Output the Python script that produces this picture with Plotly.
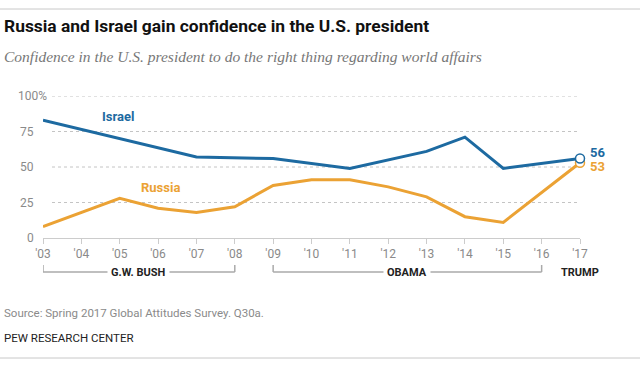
import plotly.graph_objects as go

israel_years = [2003, 2005, 2007, 2009, 2011, 2013, 2014, 2015, 2017]
israel_vals = [83, 70, 57, 56, 49, 61, 71, 49, 56]
russia_years = [2003, 2005, 2006, 2007, 2008, 2009, 2010, 2011, 2012, 2013, 2014, 2015, 2017]
russia_vals = [8, 28, 21, 18, 22, 37, 41, 41, 36, 29, 15, 11, 53]
tick_years = list(range(2003, 2018))
tick_labels = ["'%02d" % (y % 100) for y in tick_years]
y_ticks = [0, 25, 50, 75, 100]
y_labels = ["0", "25", "50", "75", "100%"]
presidents = [("G.W. BUSH", 2003, 2008), ("OBAMA", 2009, 2016)]

BLUE = "#1d6aa1"
ORANGE = "#eba234"
NARROW = "Liberation Sans Narrow, Arial Narrow, Roboto"
W, H = 640, 366
L, R, T, B = 43, 60, 96, 128
PW = W - L - R
PH = H - T - B


def px(x):
    return (x - L) / PW


def py(y):
    return 1 - (y - T) / PH


fig = go.Figure()
fig.add_trace(go.Scatter(x=israel_years, y=israel_vals, mode="lines",
                         line=dict(color=BLUE, width=3), hoverinfo="skip", cliponaxis=False))
fig.add_trace(go.Scatter(x=russia_years, y=russia_vals, mode="lines",
                         line=dict(color=ORANGE, width=3), hoverinfo="skip", cliponaxis=False))
fig.add_trace(go.Scatter(x=[russia_years[-1]], y=[russia_vals[-1]], mode="markers",
                         marker=dict(size=9, color="white", line=dict(color=ORANGE, width=1.5)),
                         cliponaxis=False, hoverinfo="skip"))
fig.add_trace(go.Scatter(x=[israel_years[-1]], y=[israel_vals[-1]], mode="markers",
                         marker=dict(size=9, color="white", line=dict(color=BLUE, width=1.5)),
                         cliponaxis=False, hoverinfo="skip"))

shapes = []
for yv in y_ticks[1:]:
    shapes.append(dict(type="line", xref="paper", yref="y", x0=px(52), x1=1, y0=yv, y1=yv,
                       line=dict(color="#c4c4c4", width=1, dash="dot"), layer="below"))
shapes.append(dict(type="line", xref="paper", yref="paper", x0=px(0), x1=px(640), y0=py(9), y1=py(9),
                   line=dict(color="#c8c8c8", width=1)))
shapes.append(dict(type="line", xref="paper", yref="paper", x0=px(0), x1=px(640), y0=py(358), y1=py(358),
                   line=dict(color="#c8c8c8", width=1)))

ann = []
for yv, lab in zip(y_ticks, y_labels):
    ann.append(dict(x=px(49) if lab.endswith("%") else px(36), y=yv, xref="paper", yref="y",
                    text=lab, showarrow=False, xanchor="right", yanchor="middle",
                    font=dict(size=12, color="#8a8a8a", family=NARROW)))

BR = "#aaaaaa"
for name, a, b in presidents:
    mid = (a + b) / 2
    ybr = py(272)
    shapes.append(dict(type="line", xref="x", yref="paper", x0=a, x1=a, y0=py(265), y1=ybr,
                       line=dict(color=BR, width=1.5)))
    shapes.append(dict(type="line", xref="x", yref="paper", x0=b, x1=b, y0=py(265), y1=ybr,
                       line=dict(color=BR, width=1.5)))
    shapes.append(dict(type="line", xref="x", yref="paper", x0=a, x1=b, y0=ybr, y1=ybr,
                       line=dict(color=BR, width=1.5), layer="below"))
    ann.append(dict(x=mid, y=ybr, xref="x", yref="paper", text="<b>%s</b>" % name, showarrow=False,
                    xanchor="center", yanchor="middle", bgcolor="white", borderpad=3,
                    font=dict(size=11, color="#222", family=NARROW)))
ann.append(dict(x=2017, y=py(272), xref="x", yref="paper", text="<b>TRUMP</b>", showarrow=False,
                xanchor="center", yanchor="middle",
                font=dict(size=11, color="#222", family=NARROW)))

ann.append(dict(x=px(118), y=py(116), xref="paper", yref="paper", text="<b>Israel</b>", showarrow=False,
                xanchor="center", yanchor="middle", font=dict(size=13, color=BLUE, family="Roboto")))
ann.append(dict(x=px(160), y=py(187), xref="paper", yref="paper", text="<b>Russia</b>", showarrow=False,
                xanchor="center", yanchor="middle", font=dict(size=13, color=ORANGE, family="Roboto")))
ann.append(dict(x=px(588), y=py(152), xref="paper", yref="paper", text="<b>%d</b>" % israel_vals[-1],
                showarrow=False, xanchor="left", yanchor="middle",
                font=dict(size=13, color=BLUE, family="Roboto")))
ann.append(dict(x=px(588), y=py(166), xref="paper", yref="paper", text="<b>%d</b>" % russia_vals[-1],
                showarrow=False, xanchor="left", yanchor="middle",
                font=dict(size=13, color=ORANGE, family="Roboto")))

ann.append(dict(x=px(2), y=py(26), xref="paper", yref="paper",
                text="<b>Russia and Israel gain confidence in the U.S. president</b>", showarrow=False,
                xanchor="left", yanchor="middle", font=dict(size=17.4, color="#111", family="Roboto")))
ann.append(dict(x=px(2), y=py(57), xref="paper", yref="paper",
                text="<i>Confidence in the U.S. president to do the right thing regarding world affairs</i>",
                showarrow=False, xanchor="left", yanchor="middle",
                font=dict(size=15.5, color="#777", family="Liberation Serif, Georgia, serif")))
ann.append(dict(x=px(2), y=py(313), xref="paper", yref="paper",
                text="Source: Spring 2017 Global Attitudes Survey. Q30a.", showarrow=False,
                xanchor="left", yanchor="middle",
                font=dict(size=11.5, color="#8a8a8a", family=NARROW)))
ann.append(dict(x=px(2), y=py(338), xref="paper", yref="paper",
                text="PEW RESEARCH CENTER", showarrow=False, xanchor="left", yanchor="middle",
                font=dict(size=11.5, color="#222", family=NARROW)))

fig.update_layout(
    width=W, height=H, margin=dict(l=L, r=R, t=T, b=B),
    paper_bgcolor="white", plot_bgcolor="white", showlegend=False,
    shapes=shapes, annotations=ann,
    xaxis=dict(range=[2003, 2017], tickvals=tick_years, ticktext=tick_labels, showgrid=False,
               zeroline=False, showline=True, linecolor="#cccccc", linewidth=1,
               ticks="outside", ticklen=5, tickcolor="#cccccc",
               tickfont=dict(size=12, color="#8a8a8a", family=NARROW),
               fixedrange=True),
    yaxis=dict(range=[0, 100], showgrid=False, zeroline=False, showticklabels=False, showline=False,
               fixedrange=True),
)
fig.write_html("out.html", config={"displayModeBar": False},
               post_script="document.body.style.margin='0';document.body.style.overflow='hidden';")
